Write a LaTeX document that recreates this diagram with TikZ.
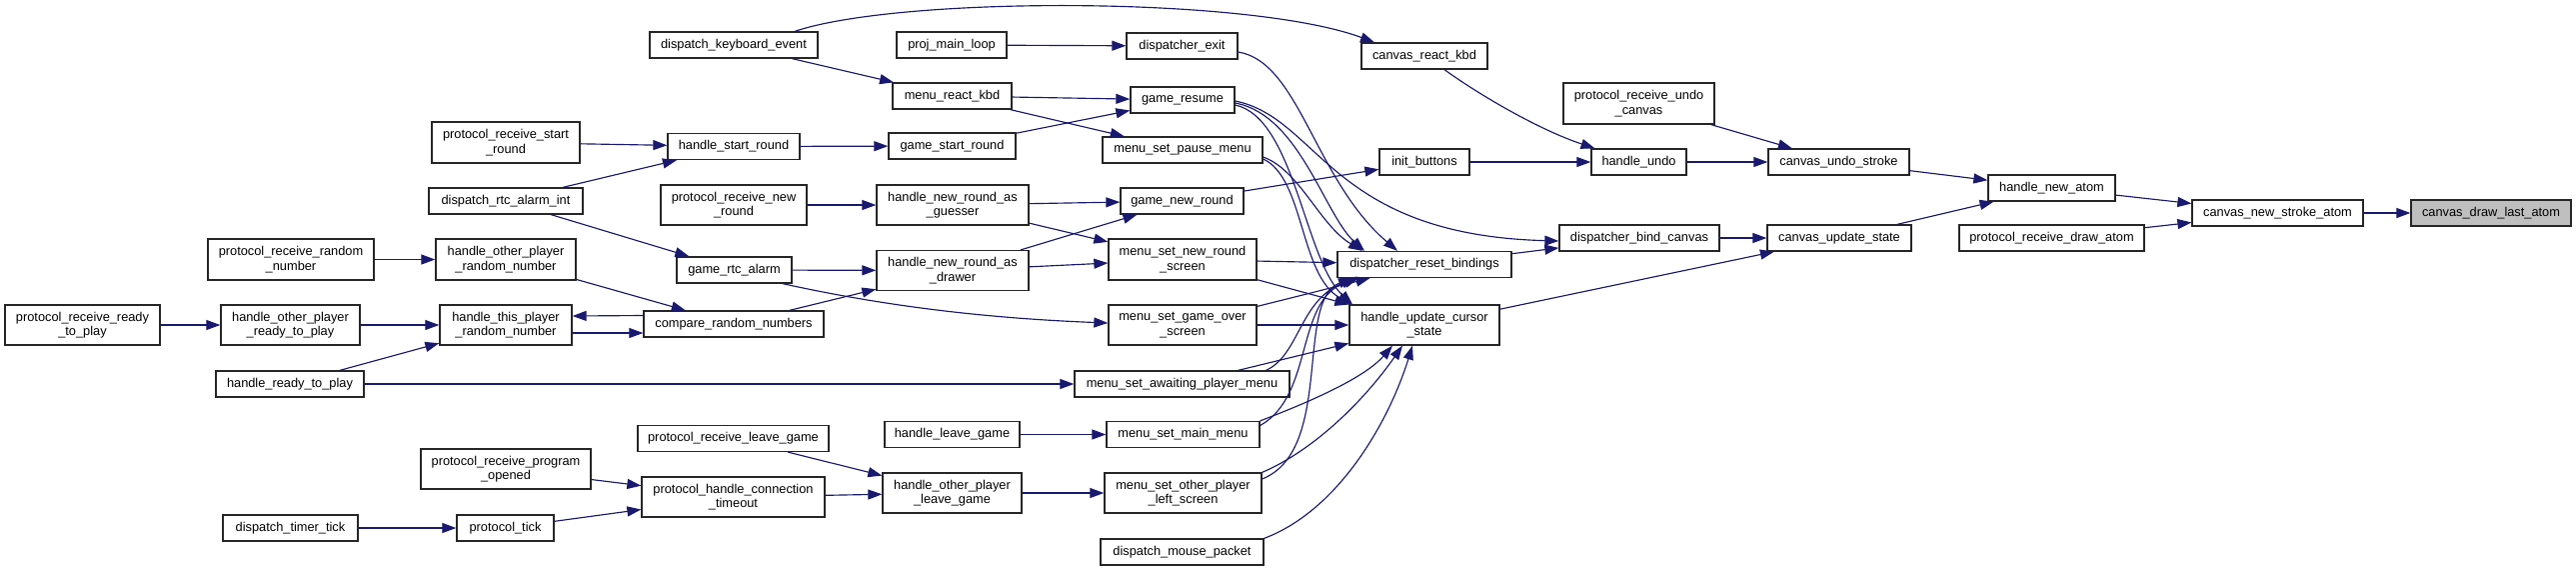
\documentclass[tikz,border=0pt]{standalone}
\usepackage{fontspec}
\setmainfont{Liberation Sans}
\usetikzlibrary{arrows.meta}
\definecolor{edgeblue}{HTML}{191970}
\definecolor{leafgray}{HTML}{BFBFBF}
\newcommand{\NB}[6]{\node[fn,minimum width=#4pt,minimum height=#5pt] (#1) at (#2,#3) {#6};}
\begin{document}
\begin{tikzpicture}[x=1pt,y=-1pt,
  fn/.style={draw=black!85,line width=1.3pt,fill=white,inner sep=0pt,align=center,
    font=\fontsize{12.8}{14.5}\selectfont},
  e/.style={draw=edgeblue,line width=1.15pt,-{Triangle[length=14pt,width=10pt]}}]
\useasboundingbox (0,0) rectangle (2577,571);
% column A
\NB{prrtp}{82.5}{325}{155}{40}{protocol\_receive\_ready\\\_to\_play}
% column B
\NB{prrn}{291}{259.5}{166}{41}{protocol\_receive\_random\\\_number}
\NB{hoprtp}{290.5}{325}{139}{40}{handle\_other\_player\\\_ready\_to\_play}
\NB{hrtp}{290}{384}{148}{26}{handle\_ready\_to\_play}
\NB{dtt}{290.5}{528}{135}{26}{dispatch\_timer\_tick}
% column C
\NB{prsr}{506}{142.5}{148}{41}{protocol\_receive\_start\\\_round}
\NB{drai}{506}{201}{154}{26}{dispatch\_rtc\_alarm\_int}
\NB{hoprn}{506}{259.5}{140}{41}{handle\_other\_player\\\_random\_number}
\NB{htprn}{506}{325}{132}{40}{handle\_this\_player\\\_random\_number}
\NB{prpo}{506}{469}{170}{40}{protocol\_receive\_program\\\_opened}
\NB{ptick}{505.5}{528}{97}{26}{protocol\_tick}
% column D
\NB{dke}{734}{45}{168}{26}{dispatch\_keyboard\_event}
\NB{hsr}{734}{146.5}{132}{26}{handle\_start\_round}
\NB{prnr}{734}{205}{146}{40}{protocol\_receive\_new\\\_round}
\NB{gra}{734.5}{270}{115}{26}{game\_rtc\_alarm}
\NB{crn}{734}{324}{180}{26}{compare\_random\_numbers}
\NB{prlg}{733.5}{438.5}{191}{26}{protocol\_receive\_leave\_game}
\NB{phct}{733.5}{497}{183}{40}{protocol\_handle\_connection\\\_timeout}
% column E
\NB{pml}{952}{45}{110}{26}{proj\_main\_loop}
\NB{mrk}{952.5}{96}{119}{26}{menu\_react\_kbd}
\NB{gsr}{952.5}{146}{127}{26}{game\_start\_round}
\NB{hnrg}{953}{205}{152}{40}{handle\_new\_round\_as\\\_guesser}
\NB{hnrd}{953}{270.5}{152}{40}{handle\_new\_round\_as\\\_drawer}
\NB{hlg}{952.5}{434.5}{135}{26}{handle\_leave\_game}
\NB{hoplg}{952.5}{493}{139}{40}{handle\_other\_player\\\_leave\_game}
% column F
\NB{dexit}{1182.5}{46}{111}{26}{dispatcher\_exit}
\NB{gres}{1183}{100}{104}{26}{game\_resume}
\NB{mspm}{1183}{150}{160}{26}{menu\_set\_pause\_menu}
\NB{gnr}{1182.5}{201}{123}{26}{game\_new\_round}
\NB{msnrs}{1183}{259.5}{148}{41}{menu\_set\_new\_round\\\_screen}
\NB{msgos}{1183}{325}{148}{40}{menu\_set\_game\_over\\\_screen}
\NB{msapm}{1182.5}{384}{215}{26}{menu\_set\_awaiting\_player\_menu}
\NB{msmm}{1183.5}{434.5}{153}{26}{menu\_set\_main\_menu}
\NB{msopls}{1183.5}{493}{157}{40}{menu\_set\_other\_player\\\_left\_screen}
\NB{dmp}{1182.5}{552}{163}{26}{dispatch\_mouse\_packet}
% column G
\NB{crk}{1425}{56}{126}{26}{canvas\_react\_kbd}
\NB{ib}{1425}{162}{90}{26}{init\_buttons}
\NB{drb}{1425}{264.5}{174}{26}{dispatcher\_reset\_bindings}
\NB{hucs}{1425}{325}{150}{40}{handle\_update\_cursor\\\_state}
% column H
\NB{pruc}{1639.5}{103.5}{151}{41}{protocol\_receive\_undo\\\_canvas}
\NB{hu}{1639.5}{162}{95}{26}{handle\_undo}
\NB{dbc}{1640}{238}{160}{26}{dispatcher\_bind\_canvas}
% column I
\NB{cus}{1839.5}{162}{141}{26}{canvas\_undo\_stroke}
\NB{cups}{1840}{238}{144}{26}{canvas\_update\_state}
% column J
\NB{hna}{2052.5}{188}{127}{26}{handle\_new\_atom}
\NB{prda}{2052.5}{238}{185}{26}{protocol\_receive\_draw\_atom}
% column K, L
\NB{cnsa}{2278.5}{213}{171}{26}{canvas\_new\_stroke\_atom}
\node[fn,fill=leafgray,minimum width=160pt,minimum height=26pt] (cdla) at (2492,213) {canvas\_draw\_last\_atom};

% straight edges
\foreach \a/\b in {pml/dexit,mrk/gres,mrk/mspm,gsr/gres,prsr/hsr,hsr/gsr,drai/hsr,drai/gra,
  prnr/hnrg,hnrg/gnr,hnrg/msnrs,hnrd/gnr,hnrd/msnrs,gra/hnrd,crn/hnrd,hoprn/crn,prrn/hoprn,
  prrtp/hoprtp,hoprtp/htprn,hrtp/htprn,hrtp/msapm,prlg/hoplg,prpo/phct,ptick/phct,dtt/ptick,
  phct/hoplg,hlg/msmm,hoplg/msopls,gnr/ib,ib/hu,hu/cus,pruc/cus,cus/hna,cups/hna,dbc/cups,
  hucs/cups,hna/cnsa,prda/cnsa,cnsa/cdla,drb/dbc,msnrs/drb,msnrs/hucs,msgos/drb,msgos/hucs,
  msapm/hucs,dke/mrk}
  \draw[e] (\a) -- (\b);
\draw[e] ([yshift=8.5pt]crn.west) -- ([yshift=9pt]htprn.east);
\draw[e] ([yshift=-8pt]htprn.east) -- ([yshift=-9pt]crn.west);

% curved edges
\draw[e] ([xshift=61pt]dke.north) .. controls (900,-4) and (1250,-4) .. ([xshift=-50pt]crk.north);
\draw[e] ([yshift=-6pt]dexit.east) .. controls (1300,62) and (1315,180) .. ([xshift=-27pt]drb.north);
\draw[e] ([yshift=-1pt]gres.east) .. controls (1320,118) and (1330,235) .. ([yshift=-3pt]dbc.west);
\draw[e] ([yshift=-3pt]gres.east) .. controls (1300,115) and (1325,215) .. ([xshift=-60pt]drb.north);
\draw[e] ([yshift=-5pt]gres.east) .. controls (1295,118) and (1305,260) .. ([xshift=-72pt]hucs.north);
\draw[e] ([yshift=-7pt]mspm.east) .. controls (1300,170) and (1320,225) .. ([xshift=-62pt]drb.north);
\draw[e] ([yshift=-9pt]mspm.east) .. controls (1305,178) and (1300,275) .. ([xshift=-73pt]hucs.north);
\draw[e] ([xshift=48.5pt]gra.south) .. controls (880,305) and (980,318) .. ([yshift=2pt]msgos.west);
\draw[e] ([xshift=84pt]msapm.north) .. controls (1300,355) and (1300,300) .. ([xshift=-69pt]drb.south);
\draw[e] (msmm.north east) .. controls (1310,402) and (1365,378) .. ([xshift=-32pt]hucs.south);
\draw[e] ([yshift=9pt]msmm.east) .. controls (1315,395) and (1295,300) .. ([xshift=-66pt]drb.south);
\draw[e] (msopls.north east) .. controls (1315,450) and (1365,400) .. ([xshift=-22pt]hucs.south);
\draw[e] ([yshift=14pt]msopls.east) .. controls (1335,450) and (1295,300) .. ([xshift=-72pt]drb.south);
\draw[e] (dmp.north east) .. controls (1340,510) and (1390,420) .. ([xshift=-12pt]hucs.south);
\draw[e] ([xshift=20pt]crk.south) .. controls (1480,95) and (1540,130) .. ([xshift=-44pt]hu.north);
\end{tikzpicture}
\end{document}
